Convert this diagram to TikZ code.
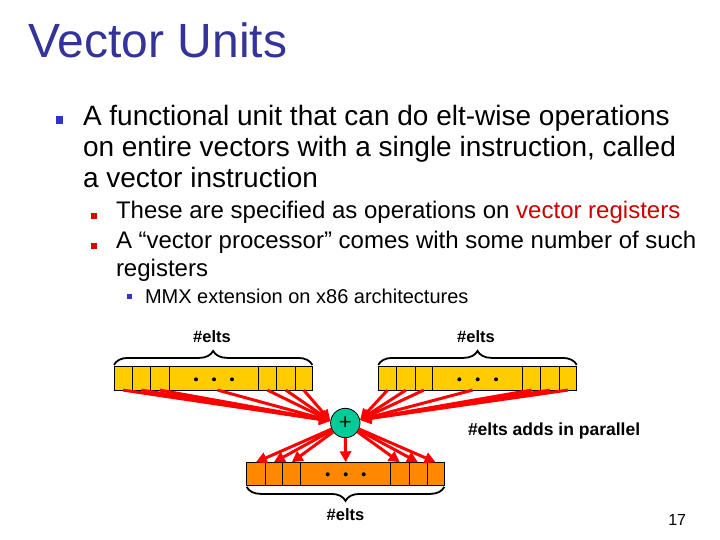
\documentclass[tikz,border=0pt]{standalone}
\usepackage{fontspec}
\setmainfont{Liberation Sans}
\usetikzlibrary{arrows.meta,decorations.pathreplacing,calc}
\definecolor{titleblue}{RGB}{51,51,153}
\definecolor{bulblue}{RGB}{51,51,204}
\definecolor{bulred}{RGB}{221,0,0}
\definecolor{txtred}{RGB}{204,0,0}
\definecolor{cellyellow}{RGB}{255,204,0}
\definecolor{cellorange}{RGB}{255,136,0}
\definecolor{plusgreen}{RGB}{0,204,153}
\begin{document}
\begin{tikzpicture}[x=1pt,y=-1pt,
  txt/.style={anchor=base west, inner sep=0pt, outer sep=0pt},
  lbl/.style={anchor=base, inner sep=0pt, font=\fontsize{16.5}{16.5}\selectfont\bfseries},
  cellbase/.style={draw=black, line width=0.8pt, anchor=north west, inner sep=0pt, outer sep=0pt, minimum height=23.4pt},
  ycell/.style={cellbase, fill=cellyellow},
  ocell/.style={cellbase, fill=cellorange},
  bracestyle/.style={draw=black, line width=1.8pt, decorate, decoration={brace, amplitude=14pt, aspect=0.5}},
  arr/.style={draw=red, line width=3pt, -{Triangle[length=11pt,width=11pt]}},
]
\fill[white] (0,0) rectangle (720,540);
\useasboundingbox (0,0) rectangle (720,540);

% title
\node[txt, text=titleblue, font=\fontsize{48}{52}\selectfont] (title) at (28.5,58) {Vector Units};

% level 1
\fill[bulblue] (55.5,116.5) rectangle (62.8,123.8);
\node[txt, font=\fontsize{28}{31}\selectfont] (l1a) at (83,126) {A functional unit that can do elt-wise operations};
\node[txt, font=\fontsize{28}{31}\selectfont] (l1b) at (83,157) {on entire vectors with a single instruction, called};
\node[txt, font=\fontsize{28}{31}\selectfont] (l1c) at (83,188) {a vector instruction};

% level 2
\fill[bulred] (91,212.6) rectangle (97.2,218.8);
\node[txt, font=\fontsize{24}{28}\selectfont] (l2a) at (116,218.5) {These are specified as operations on \textcolor{txtred}{vector registers}};
\fill[bulred] (91,242.6) rectangle (97.2,248.8);
\node[txt, font=\fontsize{24}{28}\selectfont] (l2b) at (116,248.5) {A “vector processor” comes with some number of such};
\node[txt, font=\fontsize{24}{28}\selectfont] (l2c) at (116,276.5) {registers};

% level 3
\fill[bulblue] (127,294) rectangle (131.8,298.8);
\node[txt, font=\fontsize{20}{24}\selectfont] (l3a) at (145,303.5) {MMX extension on x86 architectures};

% left register
\node[ycell, minimum width=18.3pt] (L1) at (114,366.7) {};
\node[ycell, minimum width=18.4pt] (L2) at (132.3,366.7) {};
\node[ycell, minimum width=18.3pt] (L3) at (150.7,366.7) {};
\node[ycell, minimum width=89.3pt] (L4) at (169,366.7) {};
\node[ycell, minimum width=18.4pt] (L5) at (258.3,366.7) {};
\node[ycell, minimum width=18.3pt] (L6) at (276.7,366.7) {};
\node[ycell, minimum width=17.3pt] (L7) at (295,366.7) {};
\foreach \x in {196,214,232} \fill (\x,379.3) circle (2);

% right register
\node[ycell, minimum width=18.4pt] (R1) at (378.3,366.7) {};
\node[ycell, minimum width=18.3pt] (R2) at (396.7,366.7) {};
\node[ycell, minimum width=17.7pt] (R3) at (415,366.7) {};
\node[ycell, minimum width=89.6pt] (R4) at (432.7,366.7) {};
\node[ycell, minimum width=18.4pt] (R5) at (522.3,366.7) {};
\node[ycell, minimum width=18.3pt] (R6) at (540.7,366.7) {};
\node[ycell, minimum width=17.7pt] (R7) at (559,366.7) {};
\foreach \x in {459.3,477.7,496} \fill (\x,379.3) circle (2);

% bottom register
\node[ocell, minimum width=18.3pt] (B1) at (246.7,462.3) {};
\node[ocell, minimum width=17.7pt] (B2) at (265,462.3) {};
\node[ocell, minimum width=18pt] (B3) at (282.7,462.3) {};
\node[ocell, minimum width=90pt] (B4) at (300.7,462.3) {};
\node[ocell, minimum width=18.3pt] (B5) at (390.7,462.3) {};
\node[ocell, minimum width=18pt] (B6) at (409,462.3) {};
\node[ocell, minimum width=17.3pt] (B7) at (427,462.3) {};
\foreach \x in {327.7,345.7,363.7} \fill (\x,474.3) circle (2);

% braces and labels
\draw[bracestyle] ($(L1.north west)+(0,-1.8)$) -- ($(L7.north east)+(0,-1.8)$);
\node[lbl] (eltsL) at (212,342.7) {\#elts};
\draw[bracestyle] ($(R1.north west)+(0,-1.8)$) -- ($(R7.north east)+(0,-1.8)$);
\node[lbl] (eltsR) at (476,342.7) {\#elts};
\draw[bracestyle] ($(B7.south east)+(0,1.2)$) -- ($(B1.south west)+(0,1.2)$);
\node[lbl] (eltsB) at (345.5,520) {\#elts};

% adder
\node[circle, draw=black, line width=0.8pt, fill=plusgreen, minimum size=29.4pt, inner sep=0pt, font=\fontsize{22}{22}\selectfont] (plus) at (345.3,423) {+};

% arrows in
\foreach \c in {L1,L2,L3,L5,L6,L7} \draw[arr] (\c.south) -- (plus.172);
\draw[arr] ($(L4.south)+(4,0)$) -- (plus.172);
\foreach \c in {R1,R2,R3,R5,R6,R7} \draw[arr] (\c.south) -- (plus.12);
\draw[arr] ($(R4.south)+(-5,0)$) -- (plus.12);

% arrows out
\foreach \c in {B1,B2,B3,B5,B6,B7} \draw[arr] (plus) -- (\c.north);
\draw[arr] (plus.south) -- (B4.north);

\node[txt, font=\fontsize{17.5}{17.5}\selectfont\bfseries] (par) at (468,435) {\#elts adds in parallel};
\node[txt, font=\fontsize{16}{16}\selectfont] (num) at (668.3,525) {17};
\end{tikzpicture}
\end{document}
